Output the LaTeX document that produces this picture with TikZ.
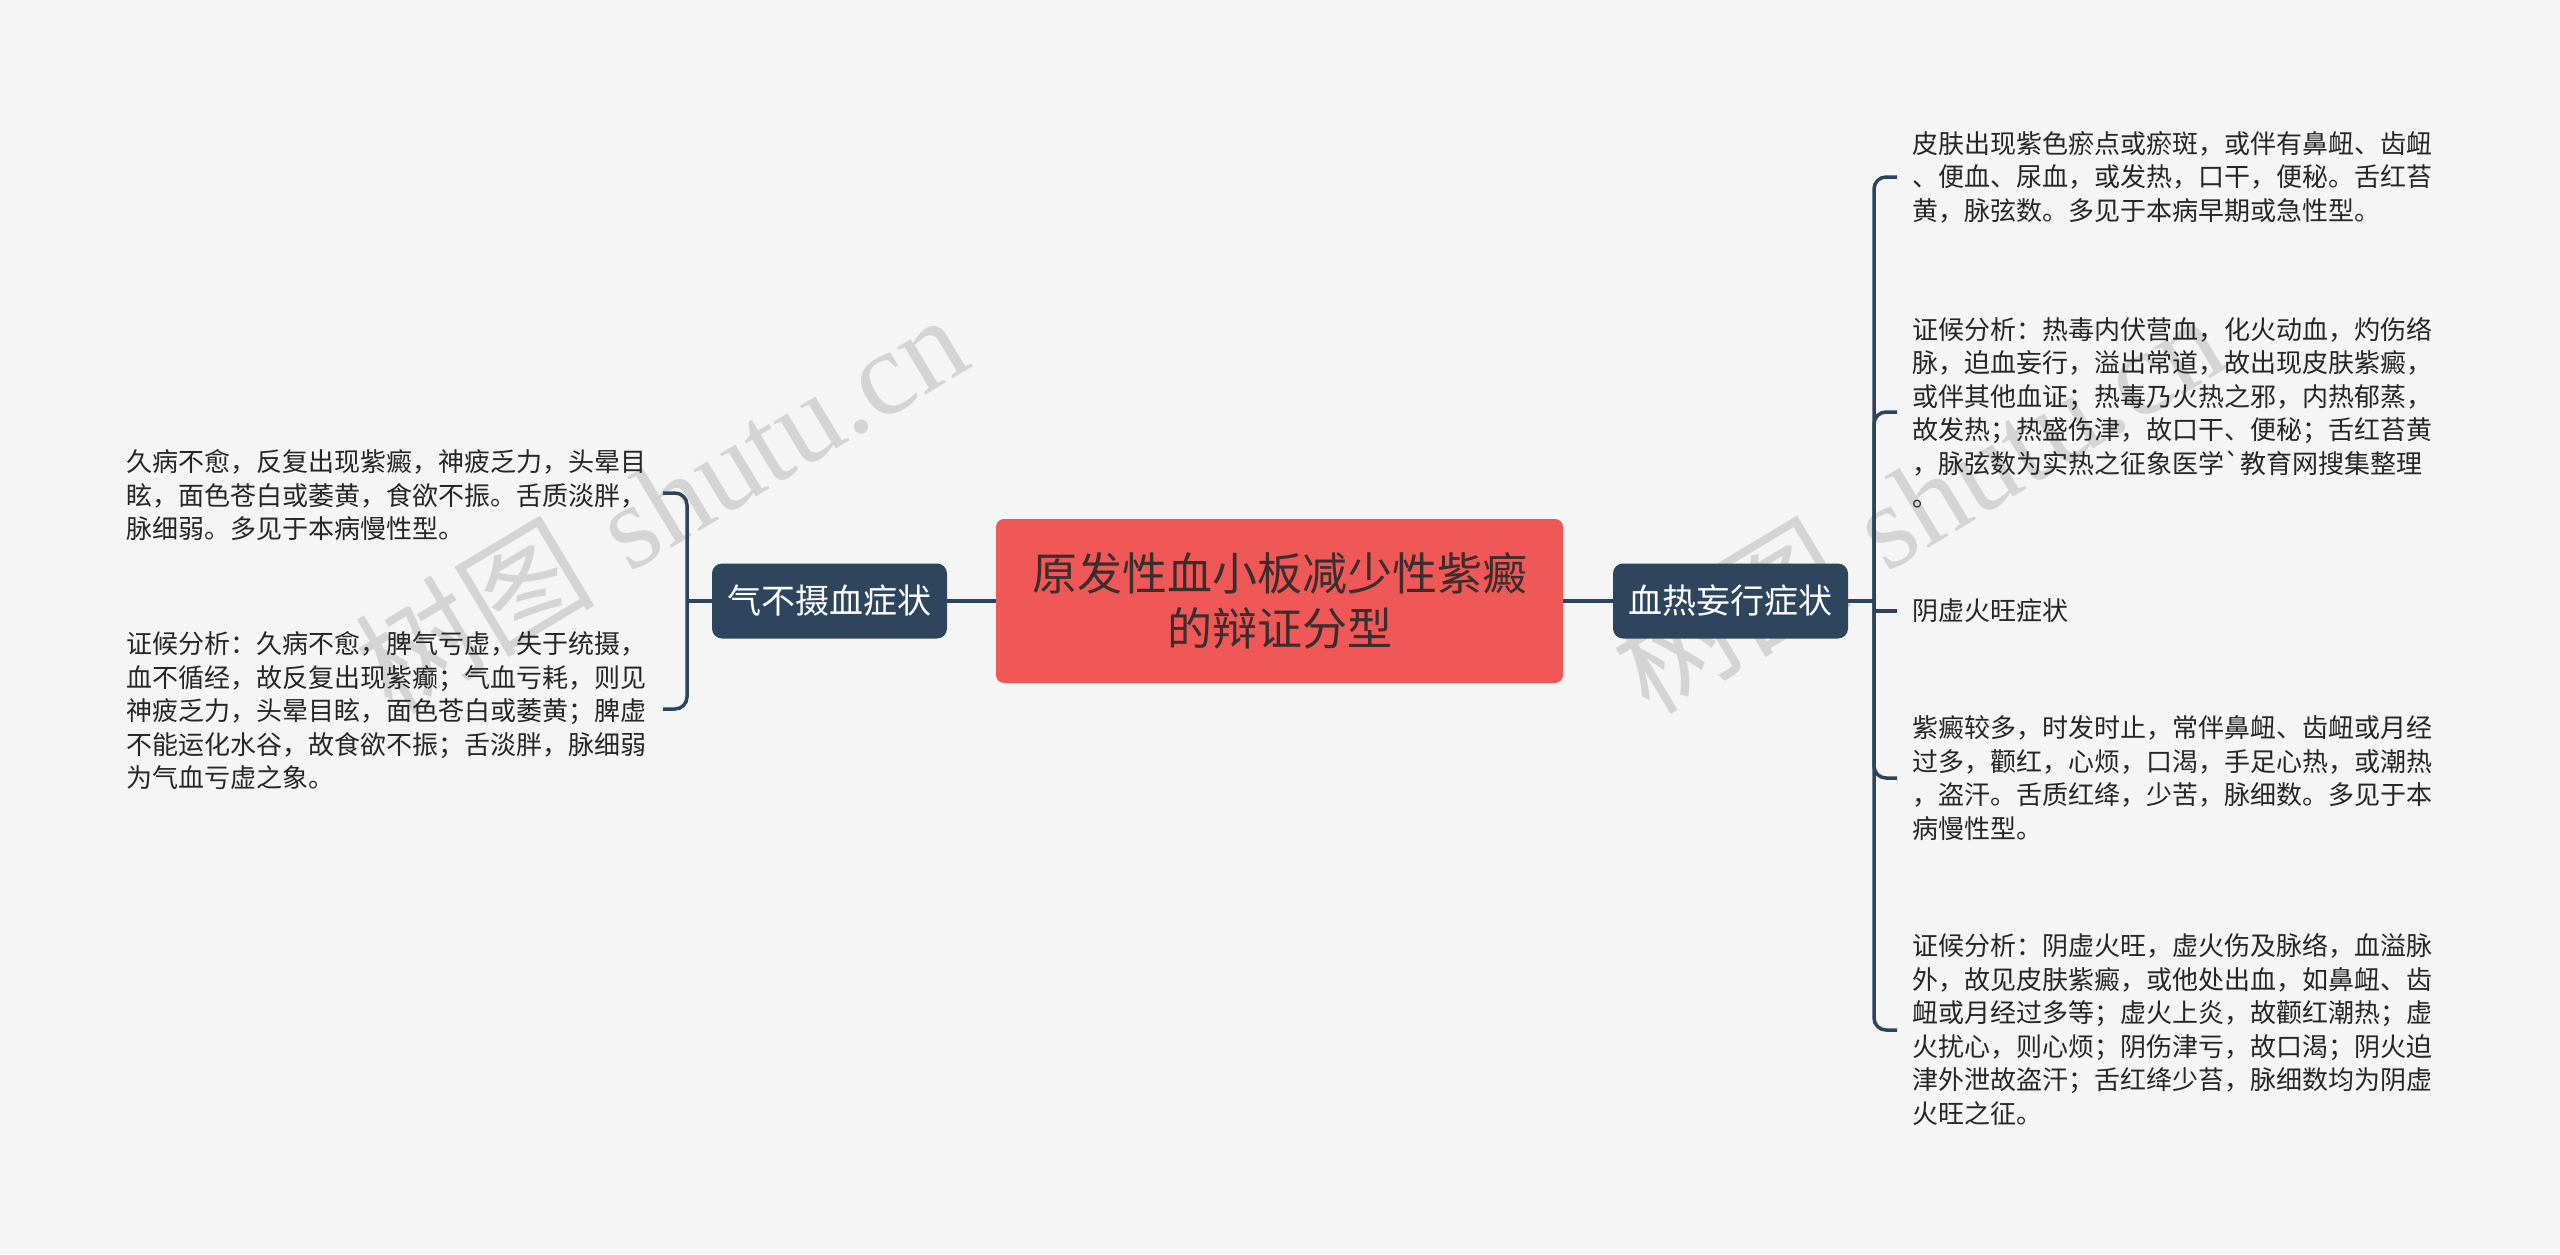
\documentclass[tikz,border=0pt]{standalone}
\usepackage{fontspec}
\newfontfamily\cjk{Noto Sans CJK SC}
\newfontfamily\wmserif{Liberation Serif}
\definecolor{bgc}{HTML}{F5F5F5}
\definecolor{linec}{HTML}{2E445C}
\definecolor{nodec}{HTML}{2F455E}
\definecolor{rootc}{HTML}{F05757}
\definecolor{roottext}{HTML}{3A2E2E}
\definecolor{leafc}{HTML}{262626}
\definecolor{wmc}{HTML}{D4D4D4}
\begin{document}
\begin{tikzpicture}[x=0.5pt,y=-0.5pt,
  conn/.style={draw=linec, line width=1.75pt},
  hook/.style={draw=linec, line width=1.75pt, rounded corners=6pt},
  branchbox/.style={fill=nodec, rounded corners=5pt, minimum width=117.5pt, minimum height=37.5pt, text=white, font=\cjk\fontsize{17pt}{20pt}\selectfont, inner sep=0pt},
  rootbox/.style={fill=rootc, rounded corners=4pt, minimum width=283.5pt, minimum height=82pt, align=center, inner sep=0pt, font=\cjk\fontsize{22.5pt}{27.8pt}\selectfont, text=roottext},
  leaf/.style={align=left, inner sep=0pt, anchor=west, font=\cjk\fontsize{13pt}{16.75pt}\selectfont, text=leafc},
  wm/.style={text=wmc, rotate=31, font=\fontsize{60pt}{62pt}\selectfont, inner sep=0pt}
]
\fill[bgc] (0,0) rectangle (2560,1254);
\useasboundingbox (0,0) rectangle (2560,1254);

% watermarks
\node[wm] (wm1) at (660,502) {{\cjk 树图} {\wmserif shutu.cn}};
\node[wm] (wm2) at (1917,502) {{\cjk 树图} {\wmserif shutu.cn}};

% main nodes
\node[rootbox] (root) at (1279.5,601) {原发性血小板减少性紫癜\\的辩证分型};
\node[branchbox] (qi) at (829.5,601) {气不摄血症状};
\node[branchbox] (xr) at (1730.5,601) {血热妄行症状};

\draw[conn] (root.west) -- (qi.east);
\draw[conn] (root.east) -- (xr.west);

% left leaves
\node[leaf] (l1) at (126,495.5) {久病不愈，反复出现紫癜，神疲乏力，头晕目\\眩，面色苍白或萎黄，食欲不振。舌质淡胖，\\脉细弱。多见于本病慢性型。};
\node[leaf] (l2) at (126,711) {证候分析：久病不愈，脾气亏虚，失于统摄，\\血不循经，故反复出现紫癫；气血亏耗，则见\\神疲乏力，头晕目眩，面色苍白或萎黄；脾虚\\不能运化水谷，故食欲不振；舌淡胖，脉细弱\\为气血亏虚之象。};

\coordinate (lj) at (687,601);
\coordinate (lh1) at (663,493);
\coordinate (lh2) at (663,709);
\draw[conn] (qi.west) -- (lj);
\draw[hook] (lh1) -| (lj) |- (lh2);

% right leaves
\node[leaf] (r1) at (1912,177) {皮肤出现紫色瘀点或瘀斑，或伴有鼻衄、齿衄\\、便血、尿血，或发热，口干，便秘。舌红苔\\黄，脉弦数。多见于本病早期或急性型。};
\node[leaf] (r2) at (1912,412.5) {证候分析：热毒内伏营血，化火动血，灼伤络\\脉，迫血妄行，溢出常道，故出现皮肤紫癜，\\或伴其他血证；热毒乃火热之邪，内热郁蒸，\\故发热；热盛伤津，故口干、便秘；舌红苔黄\\，脉弦数为实热之征象医学{\char"60}教育网搜集整理\\。};
\node[leaf] (r3) at (1912,611) {阴虚火旺症状};
\node[leaf] (r4) at (1912,778) {紫癜较多，时发时止，常伴鼻衄、齿衄或月经\\过多，颧红，心烦，口渴，手足心热，或潮热\\，盗汗。舌质红绛，少苦，脉细数。多见于本\\病慢性型。};
\node[leaf] (r5) at (1912,1029.5) {证候分析：阴虚火旺，虚火伤及脉络，血溢脉\\外，故见皮肤紫癜，或他处出血，如鼻衄、齿\\衄或月经过多等；虚火上炎，故颧红潮热；虚\\火扰心，则心烦；阴伤津亏，故口渴；阴火迫\\津外泄故盗汗；舌红绛少苔，脉细数均为阴虚\\火旺之征。};

\coordinate (rj) at (1874,601);
\coordinate (rh1) at (1897,177);
\coordinate (rh2) at (1897,412);
\coordinate (rh3) at (1897,611);
\coordinate (rh4) at (1897,778);
\coordinate (rh5) at (1897,1030);
\draw[conn] (xr.east) -- (rj);
\draw[hook] (rh1) -| (rj) |- (rh5);
\draw[hook] (rh2) -| (rj) |- (rh4);
\draw[conn] (rj |- rh3) -- (rh3);
\end{tikzpicture}
\end{document}
